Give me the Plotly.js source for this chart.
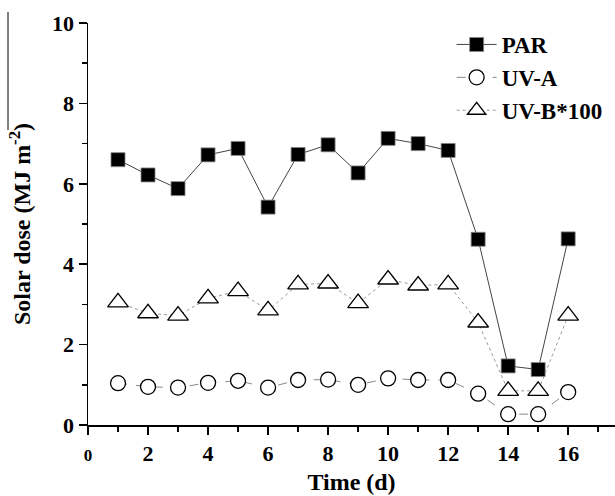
<!DOCTYPE html>
<html>
<head>
<meta charset="utf-8">
<script src="https://cdn.plot.ly/plotly-3.0.1.min.js"></script>
<style>html,body{margin:0;padding:0;background:#fff;}#chart{width:615px;height:496px;}</style>
</head>
<body>
<div id="chart"></div>
<script>
var days = [1,2,3,4,5,6,7,8,9,10,11,12,13,14,15,16];
var par  = [6.60,6.22,5.88,6.72,6.88,5.42,6.73,6.97,6.27,7.13,7.00,6.83,4.62,1.47,1.38,4.63];
var uva  = [1.04,0.95,0.93,1.05,1.10,0.93,1.12,1.13,1.00,1.16,1.12,1.12,0.78,0.27,0.27,0.82];
var uvb  = [3.05,2.78,2.72,3.15,3.33,2.85,3.50,3.52,3.03,3.62,3.47,3.50,2.55,0.85,0.85,2.72];
var xTickVals = [0,2,4,6,8,10,12,14,16];
var xTickText = ['<span style="font-size:17px">0</span>','2','4','6','8','10','12','14','16'];
var yTickVals = [0,2,4,6,8,10];

var F = 'Liberation Serif, Times New Roman, serif';
var traces = [
  {x: days, y: par, name: 'PAR', mode: 'lines+markers', type: 'scatter',
   line: {color: '#444', width: 1, dash: 'solid'},
   marker: {symbol: 'square', size: 14, color: '#000', line: {color: '#888', width: 0.8}}},
  {x: days, y: uva, name: 'UV-A', mode: 'lines+markers', type: 'scatter',
   line: {color: '#888', width: 1, dash: 'dash'},
   marker: {symbol: 'circle', size: 15, color: '#fff', line: {color: '#000', width: 1.3}}},
  {x: days, y: uvb, name: 'UV-B*100', mode: 'lines+markers', type: 'scatter',
   line: {color: '#999', width: 1, dash: 'dot'},
   marker: {symbol: 'triangle-up', size: 18, color: '#fff', line: {color: '#000', width: 1.3}}}
];
var layout = {
  width: 615, height: 496,
  margin: {l: 88, r: 0, t: 23, b: 71},
  paper_bgcolor: '#fff', plot_bgcolor: '#fff',
  font: {family: F, color: '#000', size: 22, weight: 'bold'},
  showlegend: true,
  legend: {x: 0.69, y: 1.0, xanchor: 'left', yanchor: 'top', bgcolor: 'rgba(0,0,0,0)',
           font: {family: F, size: 23, color: '#000', weight: 'bold'}, tracegroupgap: 0, itemwidth: 40},
  xaxis: {range: [0, 17.56], showgrid: false, zeroline: false, showline: true, linecolor: '#000', linewidth: 1.5,
          tickmode: 'array', tickvals: xTickVals, ticktext: xTickText, ticks: 'outside', ticklen: 8, tickwidth: 1.5, tickcolor: '#000',
          tickfont: {family: F, size: 22, color: '#000', weight: 'bold'},
          minor: {dtick: 1, ticks: 'outside', ticklen: 5, tickwidth: 1.5, tickcolor: '#000', showgrid: false},
          title: {text: 'Time (d)', font: {family: F, size: 24, color: '#000', weight: 'bold'}, standoff: 8}},
  yaxis: {range: [0, 10], showgrid: false, zeroline: false, showline: true, linecolor: '#000', linewidth: 1.5,
          tickmode: 'array', tickvals: yTickVals, ticks: 'outside', ticklen: 8, tickwidth: 1.5, tickcolor: '#000',
          tickfont: {family: F, size: 22, color: '#000', weight: 'bold'},
          minor: {dtick: 1, ticks: 'outside', ticklen: 5, tickwidth: 1.5, tickcolor: '#000', showgrid: false},
          title: {text: 'Solar dose (MJ m<sup>-2</sup>)', font: {family: F, size: 24, color: '#000', weight: 'bold'}, standoff: 14}},
  shapes: [{type: 'line', xref: 'paper', yref: 'paper', x0: -80/527, x1: -80/527, y0: (425 - 12) / 402, y1: (425 - 130) / 402,
            line: {color: '#000', width: 1}}]
};
Plotly.newPlot('chart', traces, layout, {staticPlot: true, displayModeBar: false});
</script>
</body>
</html>
